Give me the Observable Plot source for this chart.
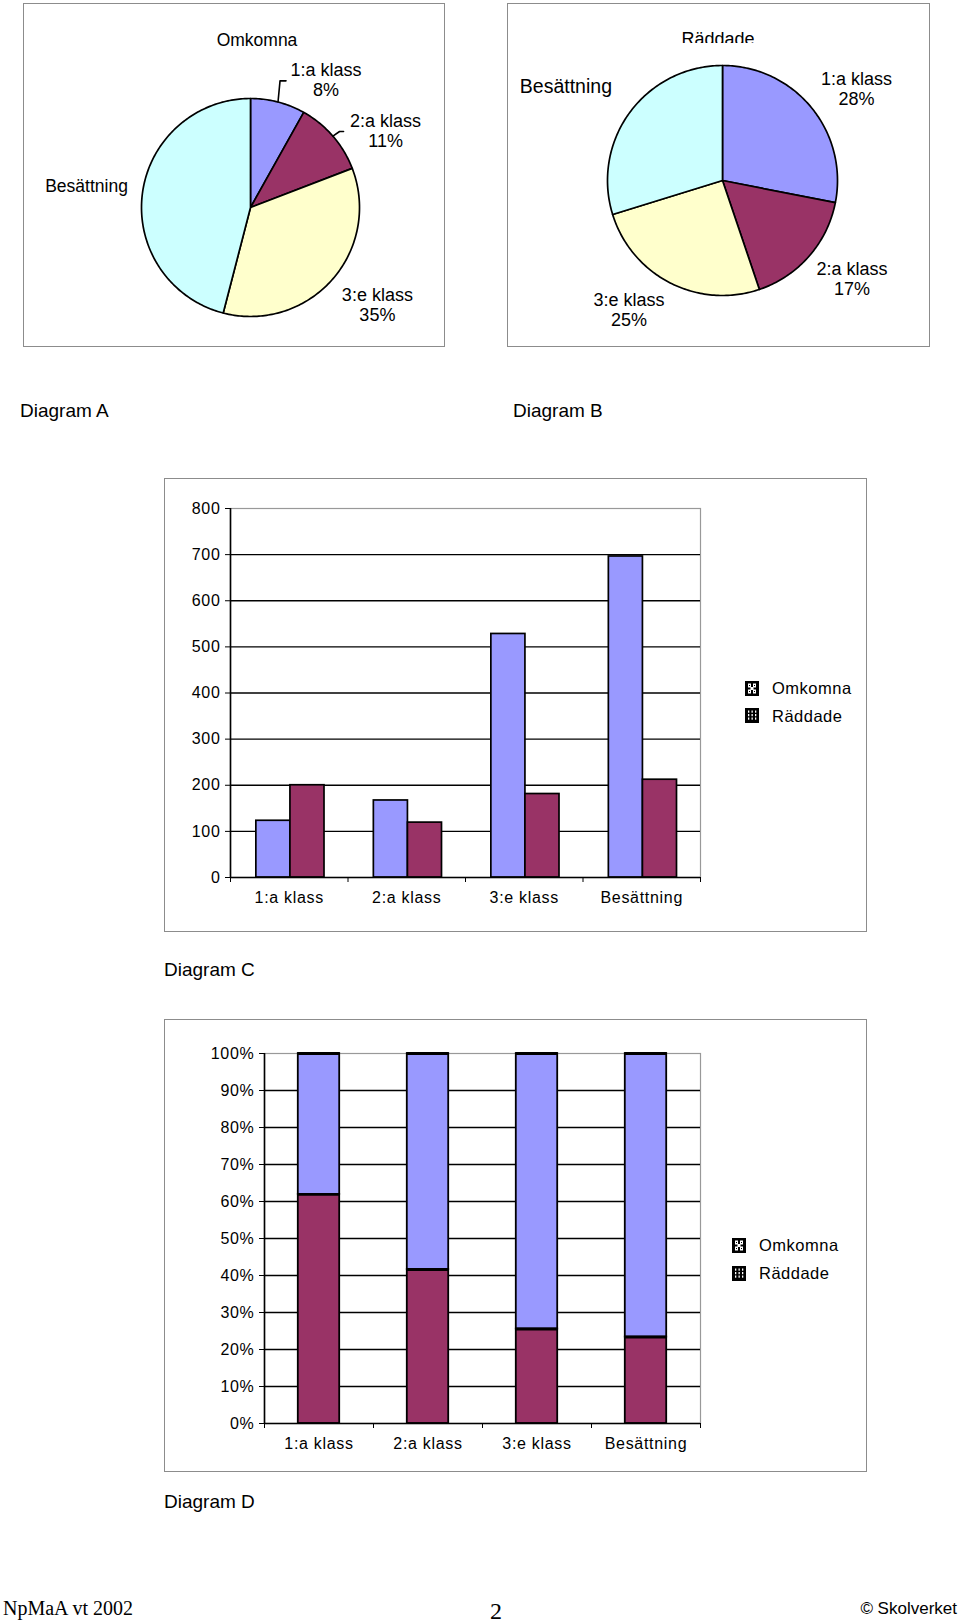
<!DOCTYPE html>
<html>
<head>
<meta charset="utf-8">
<script src="https://cdn.jsdelivr.net/npm/d3@7"></script>
<script src="https://cdn.jsdelivr.net/npm/@observablehq/plot@0.6"></script>
<style>
  html, body { margin: 0; padding: 0; background: #fff; }
  #page { position: relative; width: 960px; height: 1624px; overflow: hidden; background: #fff;
          font-family: "Liberation Sans", Arial, Helvetica, sans-serif; color: #000; }
  .box { position: absolute; border: 1px solid #8c8c8c; box-sizing: border-box; }
  .txt { position: absolute; white-space: nowrap; }
</style>
</head>
<body>
<div id="page"></div>
<script>
// ---------------- DATA ----------------
const categories = ["1:a klass", "2:a klass", "3:e klass", "Besättning"];
const seriesNames = ["Omkomna", "Räddade"];
const omkomna = [123, 167, 528, 696];
const raddade = [200, 119, 181, 212];
const showPercent = [true, true, true, false];
const countTicks = [0, 100, 200, 300, 400, 500, 600, 700, 800];
const percentTicks = [0, 0.1, 0.2, 0.3, 0.4, 0.5, 0.6, 0.7, 0.8, 0.9, 1];
const diagramNames = ["Diagram A", "Diagram B", "Diagram C", "Diagram D"];
const footerLeft = "NpMaA vt 2002";
const footerPage = "2";
const footerRight = "© Skolverket";

// ---------------- STYLE / LAYOUT ----------------
const FONT = "'Liberation Sans', Arial, Helvetica, sans-serif";
const SERIF = "'Liberation Serif', 'Times New Roman', serif";
const sliceColors = ["#9999ff", "#993366", "#ffffcc", "#ccffff"];
const seriesColors = ["#9999ff", "#993366"];

const page = document.getElementById("page");

function box(x, y, w, h) {
  const d = document.createElement("div");
  d.className = "box";
  Object.assign(d.style, {left: x + "px", top: y + "px", width: w + "px", height: h + "px"});
  page.appendChild(d);
}
function text(str, {x, baseline, size, anchor = "start", family = FONT, clip = null, spacing = 0}) {
  const top = baseline - 0.8465 * size;
  const d = document.createElement("div");
  d.className = "txt";
  d.textContent = str;
  Object.assign(d.style, {
    left: x + "px", top: top + "px", fontSize: size + "px", lineHeight: size + "px",
    fontFamily: family, letterSpacing: spacing + "px",
    transform: anchor === "middle" ? "translateX(-50%)" : anchor === "end" ? "translateX(-100%)" : "none"
  });
  if (clip !== null) {
    d.style.height = (clip - top) + "px";
    d.style.overflow = "hidden";
  }
  page.appendChild(d);
}
function place(el, x, y) {
  el.style.position = "absolute";
  el.style.left = x + "px";
  el.style.top = y + "px";
  page.appendChild(el);
}

// ---------------- PIES ----------------
function pieChart({values, W, H, cx, cy, r, nudges, sizes, leaders}) {
  const arcs = d3.pie().sort(null).value(d => d)(values);
  const total = d3.sum(values);
  const pts = [];
  arcs.forEach((a, i) => {
    const n = Math.max(2, Math.ceil((a.endAngle - a.startAngle) / (Math.PI / 180)));
    pts.push({k: categories[i], x: 0, y: 0});
    for (let j = 0; j <= n; j++) {
      const t = a.startAngle + (a.endAngle - a.startAngle) * j / n;
      pts.push({k: categories[i], x: Math.sin(t), y: -Math.cos(t)});
    }
    pts.push({k: categories[i], x: 0, y: 0});
  });
  const labels = arcs.map((a, i) => {
    const m = (a.startAngle + a.endAngle) / 2;
    const [dx, dy] = nudges[i];
    return {
      x: 1.4 * Math.sin(m) + dx / r,
      y: -1.4 * Math.cos(m) + dy / r,
      edge: [Math.sin(m), -Math.cos(m)],
      text: categories[i] + (showPercent[i] ? "\n" + Math.round(values[i] / total * 100) + "%" : ""),
      size: sizes[i]
    };
  });
  const leaderPts = [];
  leaders.forEach((ld, i) => {
    if (!ld) return;
    const L = labels[i];
    leaderPts.push({k: i, x: L.edge[0], y: L.edge[1]});
    ld.forEach(([ox, oy]) => leaderPts.push({k: i, x: L.x + ox / r, y: L.y + oy / r}));
  });
  return Plot.plot({
    width: W, height: H, margin: 0,
    x: {domain: [-cx / r, (W - cx) / r], range: [0, W], axis: null},
    y: {domain: [-cy / r, (H - cy) / r], range: [0, H], axis: null},
    color: {domain: categories, range: sliceColors},
    style: {background: "transparent", fontFamily: FONT, fontSize: "18px", overflow: "visible"},
    marks: [
      Plot.line(pts, {x: "x", y: "y", z: "k", fill: "k", stroke: "black", strokeWidth: 1.7, strokeLinejoin: "round"}),
      Plot.line(leaderPts, {x: "x", y: "y", z: "k", stroke: "black", strokeWidth: 1.6}),
      Plot.text(labels, {x: "x", y: "y", text: "text", fontSize: d => d.size, lineAnchor: "middle",
                         textAnchor: "middle", lineHeight: 1.11, fill: "black"})
    ]
  });
}

// Pie A
box(23, 3, 422, 344);
place(pieChart({
  values: omkomna, W: 422, H: 344, cx: 227, cy: 204, r: 109,
  nudges: [[37, 20], [19.7, 23.4], [13, -4.5], [-12.6, -2.2]],
  sizes: [18, 18, 18, 17.5],
  leaders: [[[-46, 1], [-40, 1]], [[-46, 0.5], [-42, 0.5]], null, null]
}), 23, 3);
text(seriesNames[0], {x: 257, baseline: 46.5, size: 17.5, anchor: "middle"});

// Pie B
box(507, 3, 423, 344);
place(pieChart({
  values: raddade, W: 423, H: 344, cx: 215, cy: 177, r: 115,
  nudges: [[9.6, 10.7], [8.4, -8.1], [-20.3, -14], [-27, 1.5]],
  sizes: [18, 18, 18, 19.5],
  leaders: [null, null, null, null]
}), 507, 3);
text(seriesNames[1], {x: 718, baseline: 45, size: 18, anchor: "middle", clip: 43.5});

text(diagramNames[0], {x: 20, baseline: 417, size: 19});
text(diagramNames[1], {x: 513, baseline: 417, size: 19});

// ---------------- BAR CHARTS ----------------
const rows = categories.flatMap((c, i) => [
  {category: c, i, series: seriesNames[0], value: omkomna[i]},
  {category: c, i, series: seriesNames[1], value: raddade[i]}
]);

function legend(x, textX, centers) {
  const ns = "http://www.w3.org/2000/svg";
  seriesNames.forEach((s, k) => {
    const svg = document.createElementNS(ns, "svg");
    svg.setAttribute("width", 14); svg.setAttribute("height", 15);
    let html = '<rect width="14" height="15" fill="#000"/>';
    if (k === 0) {
      html += '<rect x="3" y="2.5" width="3" height="4" fill="#fff"/><rect x="8" y="2.5" width="3" height="4" fill="#fff"/>' +
        '<rect x="5.5" y="6" width="3" height="3" fill="#fff"/>' +
        '<rect x="3" y="8.5" width="3" height="4" fill="#fff"/><rect x="8" y="8.5" width="3" height="4" fill="#fff"/>' +
        '<rect x="4" y="4" width="1" height="1" fill="#000"/><rect x="9" y="4" width="1" height="1" fill="#000"/>' +
        '<rect x="4" y="10" width="1" height="1" fill="#000"/><rect x="9" y="10" width="1" height="1" fill="#000"/>';
    } else {
      for (const cx of [3, 6.5, 10]) for (const cy of [2.5, 6, 9.5])
        html += `<rect x="${cx}" y="${cy}" width="1.3" height="2.2" fill="#fff"/>`;
    }
    svg.innerHTML = html;
    place(svg, x, centers[k] - 7.5);
    text(s, {x: textX, baseline: centers[k] + 6, size: 16.5, spacing: 0.5});
  });
}

const axisFont = {fontSize: 16};
const svgStyle = {background: "transparent", fontFamily: FONT, fontSize: "16px", letterSpacing: "0.7px", overflow: "visible"};

// Diagram C: grouped bars
const slotC = [[0.22, 0.51], [0.51, 0.80]];
box(164, 478, 703, 454);
place(Plot.plot({
  width: 703, height: 454, marginLeft: 66, marginRight: 167, marginTop: 30, marginBottom: 55,
  x: {domain: [0, 4], label: null},
  y: {domain: [0, 800], label: null},
  color: {domain: seriesNames, range: seriesColors},
  style: svgStyle,
  marks: [
    Plot.frame({stroke: "#999", strokeWidth: 1.2}),
    Plot.ruleY(countTicks.filter(t => t > 0 && t < 800), {stroke: "black", strokeWidth: 1.3}),
    Plot.rectY(rows, {
      x1: d => d.i + slotC[seriesNames.indexOf(d.series)][0],
      x2: d => d.i + slotC[seriesNames.indexOf(d.series)][1],
      y1: d => 0, y2: "value", fill: "series", stroke: "black", strokeWidth: 1.7
    }),
    Plot.ruleX([0], {stroke: "black", strokeWidth: 1.6}),
    Plot.ruleY([0], {stroke: "black", strokeWidth: 1.6}),
    Plot.axisY(countTicks, {tickSize: 5, tickPadding: 5, label: null, ...axisFont}),
    Plot.axisX(d3.range(0, categories.length + 1), {tickSize: 5, tickFormat: () => "", label: null}),
    Plot.axisX(categories.map((c, i) => i + 0.5), {tickSize: 0, tickPadding: 14, label: null,
      tickFormat: d => categories[Math.floor(d)], ...axisFont})
  ]
}), 164, 478);
legend(745, 772, [688, 715.5]);
text(diagramNames[2], {x: 164, baseline: 976, size: 19});

// Diagram D: 100% stacked bars
const stackOpts = {offset: "normalize", order: [seriesNames[1], seriesNames[0]]};
const slotD = [0.31, 0.69];
box(164, 1019, 703, 453);
place(Plot.plot({
  width: 703, height: 453, marginLeft: 100, marginRight: 167, marginTop: 34, marginBottom: 49,
  x: {domain: [0, 4], label: null},
  y: {domain: [0, 1], label: null},
  color: {domain: seriesNames, range: seriesColors},
  style: svgStyle,
  marks: [
    Plot.frame({stroke: "#999", strokeWidth: 1.2}),
    Plot.ruleY(percentTicks.filter(t => t > 0 && t < 1), {stroke: "black", strokeWidth: 1.3}),
    Plot.rectY(rows, Plot.stackY(stackOpts, {
      x1: d => d.i + slotD[0], x2: d => d.i + slotD[1],
      y: "value", z: "series", fill: "series", stroke: "black", strokeWidth: 1.8
    })),
    Plot.ruleY(rows, Plot.stackY2(stackOpts, {
      x1: d => d.i + slotD[0], x2: d => d.i + slotD[1],
      y: "value", z: "series", stroke: "black", strokeWidth: 2.8
    })),
    Plot.ruleX([0], {stroke: "black", strokeWidth: 1.6}),
    Plot.ruleY([0], {stroke: "black", strokeWidth: 1.6}),
    Plot.axisY(percentTicks, {tickSize: 5, tickPadding: 5, label: null,
      tickFormat: d => Math.round(d * 100) + "%", ...axisFont}),
    Plot.axisX(d3.range(0, categories.length + 1), {tickSize: 5, tickFormat: () => "", label: null}),
    Plot.axisX(categories.map((c, i) => i + 0.5), {tickSize: 0, tickPadding: 14, label: null,
      tickFormat: d => categories[Math.floor(d)], ...axisFont})
  ]
}), 164, 1019);
legend(732, 759, [1245, 1273]);
text(diagramNames[3], {x: 164, baseline: 1508.5, size: 19});

// ---------------- FOOTER ----------------
text(footerLeft, {x: 3, baseline: 1615, size: 20, family: SERIF});
text(footerPage, {x: 496, baseline: 1619.5, size: 24, family: SERIF, anchor: "middle"});
text(footerRight, {x: 957, baseline: 1614, size: 17, anchor: "end"});
</script>
</body>
</html>
